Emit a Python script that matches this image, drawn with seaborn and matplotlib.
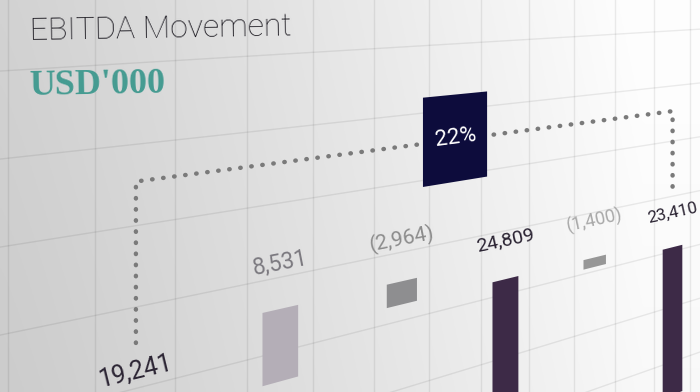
import numpy as np
import pandas as pd
import matplotlib
matplotlib.use("Agg")
import matplotlib.pyplot as plt
import matplotlib.transforms as mtransforms
from matplotlib.patches import Rectangle
import seaborn as sns

# data
steps = ["Opening EBITDA", "Increase", "Decrease", "Subtotal", "Other", "Closing EBITDA"]
values = [19241, 8531, -2964, 24809, -1400, 23410]
is_total = [True, False, False, True, False, True]
bar_colors = ["#3d2a47", "#b4aeb7", "#8e8e90", "#3d2a47", "#979797", "#3d2a47"]
label_colors = ["#2b2433", "#7c7a80", "#8c8c8c", "#2b2433", "#a9a9a9", "#2b2433"]
title = "EBITDA Movement"
unit = "USD'000"

W, H = 700, 392
LABEL_FONT = ["Roboto", "DejaVu Sans"]

# chart plane (category index, value) seen at an angle -> image pixels
A, C, G = 171.3, 135.9, 0.0951
D, E, F = -3.5, -0.0093, 600.0


class Perspective(mtransforms.Transform):
    input_dims = 2
    output_dims = 2
    is_separable = False
    has_inverse = False

    def transform_non_affine(self, xy):
        xy = np.asarray(xy, dtype=float).reshape(-1, 2)
        u, v = xy[:, 0], xy[:, 1]
        w = G * u + 1
        px = (A * u + C) / w
        py = (D * u + E * v + F) / w
        return np.column_stack([px, H - py])


sns.set_style("white")
plt.rcParams["font.family"] = ["Roboto", "DejaVu Sans"]

fig = plt.figure(figsize=(7, 3.92), dpi=100)
persp = Perspective() + mtransforms.Affine2D().scale(1 / 100) + fig.dpi_scale_trans

# background gradient (darker on the left, near white on the right)
bg = fig.add_axes([0, 0, 1, 1])
X, Y = np.meshgrid(np.linspace(0, 1, 350), np.linspace(0, 1, 196))
shade = 0.80 + 0.175 * np.clip(X / 0.92, 0, 1) ** 1.15 + 0.025 * (1 - Y)
shade = np.clip(shade, 0, 0.995)
bg.imshow(np.dstack([shade] * 3), aspect="auto", extent=[0, 1, 0, 1])
bg.set_xlim(0, 1)
bg.set_ylim(0, 1)
bg.axis("off")

ax = fig.add_axes([0, 0, 1, 1])

# waterfall geometry
tops, bottoms = [], []
running = 0
for val, tot in zip(values, is_total):
    if tot:
        bottoms.append(0)
        tops.append(val)
        running = val
    else:
        new = running + val
        bottoms.append(min(running, new))
        tops.append(max(running, new))
        running = new

df = pd.DataFrame({"step": steps, "height": np.array(tops) - np.array(bottoms)})
sns.barplot(data=df, x="step", y="height", hue="step", palette=bar_colors,
            width=0.27, saturation=1, legend=False, linewidth=0, ax=ax)
for patch, b in zip(ax.patches, bottoms):
    patch.set_y(b)
    patch.set_transform(persp)
    patch.set_zorder(3)

# grid on the board
gv = ax.vlines(np.arange(-1.25, 6.0, 0.5), -8000, 75000, color="k", alpha=0.075, lw=1.0, zorder=0)
gh = ax.hlines(np.arange(-3500, 70000, 8750), -2, 7, color="k", alpha=0.075, lw=1.0, zorder=0)
gv.set_transform(persp)
gh.set_transform(persp)

# dotted bridge between opening and closing
level = 45000
line, = ax.plot([0, 0, len(values) - 1, len(values) - 1],
                [values[0] + 8400, level, level, values[-1] + 8300],
                color="#7a7a7a", lw=3.2, linestyle=(0, (0.1, 2.4)),
                dash_capstyle="round", zorder=4)
line.set_transform(persp)

change = (values[-1] - values[0]) / values[0]
box = ax.add_patch(Rectangle((2.19, level - 5600), 0.62, 11600, color="#0d0c3c", lw=0, zorder=5))
box.set_transform(persp)


def local_angle(u, v):
    p = persp.transform([[u - 0.05, v], [u + 0.05, v]])
    return np.degrees(np.arctan2(p[1, 1] - p[0, 1], p[1, 0] - p[0, 0]))


ax.text(2.5, level + 200, f"{change:.0%}", transform=persp, ha="center", va="center",
        rotation=local_angle(2.5, level), rotation_mode="anchor",
        fontsize=16, color="white", family=LABEL_FONT, zorder=6)

for i, (val, top) in enumerate(zip(values, tops)):
    txt = f"{val:,}" if val >= 0 else f"({-val:,})"
    w = G * i + 1
    ax.text(i, top + 5400, txt, transform=persp, ha="center", va="center",
            rotation=local_angle(i, top + 5400), rotation_mode="anchor",
            fontsize=18 / w, color=label_colors[i], family=LABEL_FONT, zorder=6)

ax.axis("off")

fig.text(30 / W, 1 - 40 / H, title, ha="left", va="baseline", rotation=1,
         fontsize=23, fontweight="light", family=["Roboto", "DejaVu Sans"], color="#1f1d24")
fig.text(29 / W, 1 - 95 / H, unit, ha="left", va="baseline", rotation=1,
         fontsize=26, fontweight="bold", family=["Liberation Serif", "DejaVu Serif"], color="#449b91")

fig.savefig("out.png", dpi=100)
